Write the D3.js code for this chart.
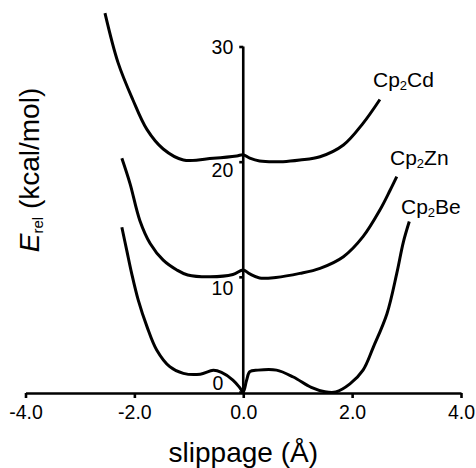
<!DOCTYPE html>
<html>
<head>
<meta charset="utf-8">
<script src="https://cdn.jsdelivr.net/npm/d3@7"></script>
<style>
  html, body { margin: 0; padding: 0; background: #fff; }
  svg { display: block; font-family: "Liberation Sans", Arial, Helvetica, sans-serif; }
</style>
</head>
<body>
<svg id="chart" width="476" height="468"></svg>
<script>
// x ticks and y ticks
const xTicks = [-4, -2, 0, 2, 4];
const yTicks = [0, 10, 20, 30];

// slippage (Å) and relative energy (kcal/mol)
const cdX = [-2.54, -2.30, -2.03, -1.77, -1.47, -1.10, -0.55, -0.12, 0, 0.12, 0.30, 0.73, 1.04, 1.41, 1.84, 2.20, 2.51];
const cdY = [32.9, 28.6, 25.4, 22.8, 21.1, 20.15, 20.3, 20.5, 20.6, 20.3, 20.05, 20.0, 20.14, 20.43, 21.45, 23.33, 25.4];

const znX = [-2.23, -2.08, -1.90, -1.71, -1.47, -1.22, -1.02, -0.61, -0.19, 0, 0.12, 0.30, 0.60, 1.04, 1.41, 1.84, 2.20, 2.51, 2.70, 2.82];
const znY = [20.3, 18.1, 14.9, 12.9, 11.45, 10.6, 10.16, 10.0, 10.2, 10.6, 10.25, 9.9, 9.95, 10.3, 10.74, 11.75, 13.49, 15.8, 17.54, 18.7];

const beX = [-2.23, -2.14, -2.05, -1.93, -1.77, -1.59, -1.35, -1.10, -0.79, -0.55, -0.40, -0.19, -0.06, 0, 0.06, 0.12, 0.27, 0.61, 0.92, 1.25, 1.50, 1.70, 1.96, 2.20, 2.39, 2.64, 2.82, 2.94, 3.05];
const beY = [14.3, 12.3, 10.3, 8.0, 5.7, 3.65, 2.2, 1.62, 1.55, 1.88, 1.7, 1.04, 0.35, 0, 1.0, 1.76, 1.9, 1.9, 1.3, 0.4, 0.02, 0, 0.7, 1.9, 3.9, 6.8, 10.3, 13.0, 14.8];

const seriesNames = ["Cd", "Zn", "Be"];

const svg = d3.select('#chart');

// scales
const x = d3.scaleLinear().domain([-4, 4]).range([25.5, 461]);
const y = d3.scaleLinear().domain([0, 30]).range([392, 46.5]);

// x axis
const xAxis = svg.append('g')
    .attr('transform', 'translate(0,393)')
    .call(d3.axisBottom(x).tickValues(xTicks).tickSize(5).tickSizeOuter(0)
        .tickFormat(d3.format('.1f')));
xAxis.select('.domain').attr('stroke', '#000').attr('stroke-width', 2.6);
xAxis.selectAll('.tick line').attr('stroke', '#000').attr('stroke-width', 2.6);
xAxis.selectAll('.tick text')
    .attr('fill', '#000')
    .attr('font-size', 19.5)
    .attr('font-family', '"Liberation Sans", Arial, sans-serif')
    .attr('y', 10)
    .attr('dy', '0.8em')
    .text(d => d3.format('.1f')(d).replace('−', '-'));

// y axis through the origin
const yAxis = svg.append('g')
    .attr('transform', `translate(${x(0)},0)`)
    .call(d3.axisLeft(y).tickValues(yTicks).tickSize(4).tickSizeOuter(0));
yAxis.select('.domain').attr('stroke', '#000').attr('stroke-width', 2.6)
    .attr('d', `M0,${y(30)}V393`);
yAxis.selectAll('.tick line').attr('stroke', '#000').attr('stroke-width', 2.6);
// the original labels sit a bit below their ticks
const labelDrop = {0: -3, 10: 18, 20: 15, 30: 7};
yAxis.selectAll('.tick text')
    .attr('fill', '#000')
    .attr('font-size', 19.5)
    .attr('font-family', '"Liberation Sans", Arial, sans-serif')
    .attr('dy', null)
    .attr('x', d => d === 0 ? -20 : -10)
    .attr('y', d => labelDrop[d]);

// curves
const line = d3.line()
    .x(d => x(d[0]))
    .y(d => y(d[1]))
    .curve(d3.curveCatmullRom.alpha(0.5));

const curves = [d3.zip(cdX, cdY), d3.zip(znX, znY), d3.zip(beX, beY)];
svg.append('g').selectAll('path')
    .data(curves)
    .enter()
    .append('path')
    .attr('d', line)
    .attr('fill', 'none')
    .attr('stroke', '#000')
    .attr('stroke-width', 3)
    .attr('stroke-linejoin', 'round');

// series labels: Cp2M
const labelPos = [[373, 87], [390, 165], [401, 214]];
seriesNames.forEach((m, i) => {
    const t = svg.append('text')
        .attr('x', labelPos[i][0])
        .attr('y', labelPos[i][1])
        .attr('font-size', 21)
        .attr('fill', '#000');
    t.append('tspan').text('Cp');
    t.append('tspan').attr('font-size', 13).attr('dy', 3).text('2');
    t.append('tspan').attr('dy', -3).text(m);
});

// axis titles
svg.append('text')
    .attr('x', x(0))
    .attr('y', 462)
    .attr('text-anchor', 'middle')
    .attr('font-size', 28)
    .attr('fill', '#000')
    .text('slippage (Å)');

const yTitle = svg.append('text')
    .attr('transform', 'translate(39,170) rotate(-90)')
    .attr('text-anchor', 'middle')
    .attr('font-size', 28)
    .attr('fill', '#000');
yTitle.append('tspan').attr('font-style', 'italic').text('E');
yTitle.append('tspan').attr('font-size', 15).attr('dy', 4).text('rel');
yTitle.append('tspan').attr('dy', -4).text(' (kcal/mol)');
</script>
</body>
</html>
